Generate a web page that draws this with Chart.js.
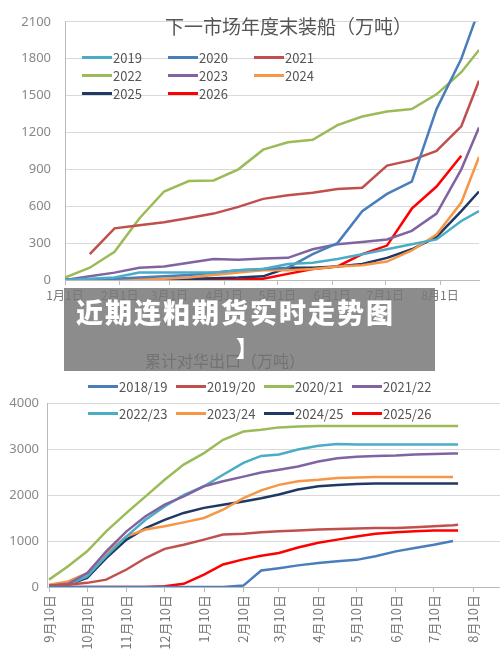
<!DOCTYPE html>
<html><head><meta charset="utf-8">
<script src="https://cdn.jsdelivr.net/npm/chart.js@4"></script>
<style>
body{margin:0;width:500px;height:659px;position:relative;background:#fff;font-family:"Noto Sans CJK SC","Noto Sans",sans-serif;overflow:hidden}
canvas{position:absolute;left:0}
.t{position:absolute;color:#555;white-space:nowrap}
.lg{position:absolute;font-size:13px;color:#555;display:flex;align-items:center;white-space:nowrap}
.lg i{display:inline-block;width:30px;height:3px;margin-right:1px}
#ov{position:absolute;left:64px;top:288px;width:371px;height:83px;background:rgba(120,120,120,0.85)}
</style></head><body>
<canvas id="top" width="500" height="310" style="top:0"></canvas>
<canvas id="bot" width="500" height="289" style="top:370px"></canvas>
<div class="t" style="left:165px;top:12px;font-size:19px">下一市场年度末装船（万吨）</div>
<div class="t" style="left:145px;top:348px;font-size:16px">累计对华出口（万吨）</div>
<div id="legends"></div>
<div id="ov">
<div style="position:absolute;left:12px;top:4px;color:#fff;font-weight:900;font-size:27px;letter-spacing:2px">近期连粕期货实时走势图</div>
<div style="position:absolute;left:172px;top:42px;color:#fff;font-weight:900;font-size:22px">】</div>
</div>
<script>
// top chart: days since Jan 1
const topDays = [0,14,28,42,56,70,84,98,112,126,140,154,168,182,196,210,224,234];
const topTickDays = [0,31,59,90,120,151,181,212];
const topTickLabels = ['1月1日','2月1日','3月1日','4月1日','5月1日','6月1日','7月1日','8月1日'];
const s2019 = [0,10,20,60,60,60,60,80,90,130,140,170,210,250,290,330,480,560];
const s2020 = [0,5,10,20,30,40,60,80,90,100,210,300,560,700,800,1390,1800,2200];
const s2021 = [null,210,420,445,470,505,540,595,660,690,710,740,750,930,975,1050,1250,1620];
const s2022 = [20,100,230,500,720,805,810,900,1060,1120,1140,1260,1330,1370,1390,1510,1690,1870];
const s2023 = [0,30,60,100,110,140,170,165,175,180,250,290,310,330,400,540,900,1240];
const s2024 = [0,0,0,5,10,20,40,60,80,80,90,110,120,150,240,370,630,1000];
const s2025 = [0,0,0,0,5,10,15,20,30,100,100,110,130,180,250,350,560,720];
const s2026 = [0,0,0,0,0,0,5,5,10,50,90,110,210,280,580,760,1010,null];
const topNames = ['2019','2020','2021','2022','2023','2024','2025','2026'];
const topSeries = [s2019,s2020,s2021,s2022,s2023,s2024,s2025,s2026];
const topColors = ['#4bacc6','#4a7ebb','#c0504d','#9bbb59','#8064a2','#f79646','#1f3864','#ff0000'];

// bottom chart: days since Sep 10
const botDays = [0,15,30,45,61,76,91,106,122,137,153,167,181,196,212,227,242,257,273,288,303,318,322];
const botTickDays = [0,30,61,91,122,153,181,212,242,273,303,334];
const botTickLabels = ['9月10日','10月10日','11月10日','12月10日','1月10日','2月10日','3月10日','4月10日','5月10日','6月10日','7月10日','8月10日'];
const b1819 = [0,0,0,0,0,0,0,0,0,0,30,360,410,470,520,560,590,670,775,850,920,1000,null];
const b1920 = [30,50,90,160,380,630,830,920,1030,1140,1160,1190,1210,1230,1250,1260,1270,1280,1280,1300,1320,1345,1355];
const b2021 = [160,450,775,1210,1610,1970,2330,2660,2910,3200,3380,3420,3470,3490,3500,3500,3500,3500,3500,3500,3500,3500,3500];
const b2122 = [30,70,300,775,1210,1540,1790,1970,2190,2300,2400,2490,2550,2620,2730,2800,2830,2850,2860,2880,2890,2900,2900];
const b2223 = [30,50,230,670,1100,1460,1750,2000,2190,2440,2700,2850,2880,2990,3070,3110,3100,3100,3100,3100,3100,3100,3100];
const b2324 = [50,120,300,740,1100,1250,1320,1405,1500,1680,1930,2100,2220,2300,2330,2370,2380,2390,2390,2390,2390,2390,null];
const b2425 = [30,50,200,630,1030,1280,1460,1610,1720,1790,1860,1930,2010,2120,2190,2220,2240,2250,2250,2250,2250,2250,2250];
const b2526 = [0,0,0,0,0,0,15,70,270,490,600,680,740,860,960,1030,1100,1160,1190,1210,1230,1230,1230];
const botNames = ['2018/19','2019/20','2020/21','2021/22','2022/23','2023/24','2024/25','2025/26'];
const botSeries = [b1819,b1920,b2021,b2122,b2223,b2324,b2425,b2526];
const botColors = ['#4a7ebb','#c0504d','#9bbb59','#8064a2','#4bacc6','#f79646','#1f3864','#ff0000'];

function sets(xs, series, names, colors) {
  return series.map((s, i) => ({
    label: names[i],
    data: xs.map((x, j) => ({x: x, y: s[j]})),
    borderColor: colors[i], backgroundColor: colors[i],
    borderWidth: 2.5, pointRadius: 0, tension: 0
  }));
}
const gridCol = '#d9d9d9';
const tickFont = {family: 'Noto Sans CJK SC', size: 12};
const plain = v => String(v);

new Chart(document.getElementById('top'), {
  type: 'line',
  data: {datasets: sets(topDays, topSeries, topNames, topColors)},
  options: {
    animation: false, responsive: false,
    layout: {padding: {top: 16, right: 21, left: 0, bottom: 0}},
    plugins: {legend: {display: false}, tooltip: {enabled: false}},
    scales: {
      x: {type: 'linear', min: 0, max: 234,
        afterBuildTicks: a => { a.ticks = topTickDays.map(v => ({value: v})); },
        afterFit: a => { a.height = 30; },
        ticks: {color: '#777', font: tickFont, maxRotation: 0, autoSkip: false,
          callback: (v, i) => topTickLabels[i]},
        grid: {drawOnChartArea: false, color: '#bbb', tickLength: 5},
        border: {color: '#bbb'}},
      y: {min: 0, max: 2100,
        afterBuildTicks: a => { a.ticks = [0,300,600,900,1200,1500,1800,2100].map(v => ({value: v})); },
        afterFit: a => { a.width = 65; },
        ticks: {color: '#888', font: {family: 'Noto Sans', size: 13}, padding: 14, callback: plain},
        grid: {color: gridCol, drawTicks: false},
        border: {color: '#bbb'}}
    }
  }
});

new Chart(document.getElementById('bot'), {
  type: 'line',
  data: {datasets: sets(botDays, botSeries, botNames, botColors)},
  options: {
    animation: false, responsive: false,
    layout: {padding: {top: 33, right: 0, left: 0, bottom: 0}},
    plugins: {legend: {display: false}, tooltip: {enabled: false}},
    scales: {
      x: {type: 'linear', min: -1.6, max: 355,
        afterBuildTicks: a => { a.ticks = botTickDays.map(v => ({value: v})); },
        afterFit: a => { a.height = 72; },
        ticks: {color: '#777', font: {family: 'Noto Sans CJK SC', size: 13}, minRotation: 90, maxRotation: 90, autoSkip: false,
          callback: (v, i) => botTickLabels[i]},
        grid: {drawOnChartArea: false, color: '#bbb', tickLength: 5},
        border: {color: '#bbb'}},
      y: {min: 0, max: 4000,
        afterBuildTicks: a => { a.ticks = [0,1000,2000,3000,4000].map(v => ({value: v})); },
        afterFit: a => { a.width = 47; },
        ticks: {color: '#888', font: {family: 'Noto Sans', size: 13}, padding: 8, callback: plain},
        grid: {color: gridCol, drawTicks: false},
        border: {color: '#bbb'}}
    }
  }
});

// legends
let html = '';
topNames.forEach((n, i) => {
  const x = 82 + (i % 3) * 86, y = 48 + Math.floor(i / 3) * 18;
  html += `<div class="lg" style="left:${x}px;top:${y}px;font-size:13px"><i style="background:${topColors[i]}"></i>${n}</div>`;
});
botNames.forEach((n, i) => {
  const x = 88 + (i % 4) * 88, y = 377 + Math.floor(i / 4) * 27;
  html += `<div class="lg" style="left:${x}px;top:${y}px"><i style="background:${botColors[i]}"></i>${n}</div>`;
});
document.getElementById('legends').innerHTML = html;
</script>
</body></html>
